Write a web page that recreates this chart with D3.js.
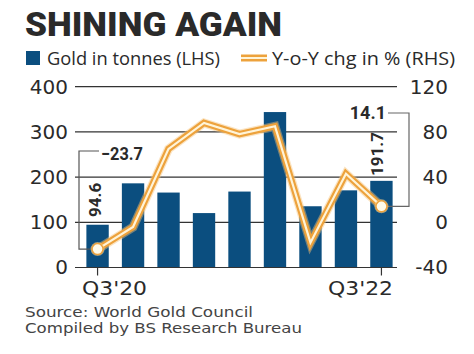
<!DOCTYPE html>
<html><head><meta charset="utf-8">
<script src="https://cdn.jsdelivr.net/npm/d3@7"></script>
<style>
html,body{margin:0;padding:0;background:#fff;}
svg{display:block;}
</style>
</head><body>
<script>
const categories = ["Q3'20","Q4'20","Q1'21","Q2'21","Q3'21","Q4'21","Q1'22","Q2'22","Q3'22"];
const goldTonnes = [94.6, 186.2, 165.8, 120.4, 168.0, 343.9, 135.5, 170.7, 191.7];
const yoyChange = [-23.7, -4.2, 65, 88, 78, 85, -18, 43, 14.1];
const leftTicks = [0, 100, 200, 300, 400];
const rightTicks = [-40, 0, 40, 80, 120];
const xTickLabels = ["Q3'20", "Q3'22"];

const W = 474, H = 354;
const svg = d3.select("body").append("svg").attr("width", W).attr("height", H);

const BLUE = "#0b4e7f", ORANGE = "#eda23c", PALE = "#fff4d8", INK = "#2a2a2a";
const gridX0 = 75, gridX1 = 397;
const yTop = 86.7, yBot = 267.5;

const x = d3.scaleBand().domain(categories).range([80, 399]).paddingInner(0.37).paddingOuter(0.18);
const yL = d3.scaleLinear().domain([0, 400]).range([yBot, yTop]);
const yR = d3.scaleLinear().domain([-40, 120]).range([yBot, yTop]);
const cx = c => x(c) + x.bandwidth() / 2;

// Title
svg.append("text").attr("x", 25).attr("y", 36)
  .attr("font-family", "Roboto").attr("font-weight", 900).attr("font-size", 33)
  .attr("fill", INK).attr("textLength", 257).attr("lengthAdjust", "spacingAndGlyphs")
  .text("SHINING AGAIN");

// Legend
svg.append("rect").attr("x", 26).attr("y", 51).attr("width", 14).attr("height", 14).attr("fill", BLUE);
svg.append("text").attr("x", 47).attr("y", 65)
  .attr("font-family", "Open Sans").attr("font-size", 19).attr("fill", INK)
  .attr("textLength", 173).attr("lengthAdjust", "spacingAndGlyphs")
  .text("Gold in tonnes (LHS)");
svg.append("line").attr("x1", 241).attr("x2", 267).attr("y1", 58).attr("y2", 58)
  .attr("stroke", ORANGE).attr("stroke-width", 7);
svg.append("line").attr("x1", 241).attr("x2", 267).attr("y1", 58).attr("y2", 58)
  .attr("stroke", PALE).attr("stroke-width", 2);
svg.append("text").attr("x", 272).attr("y", 65)
  .attr("font-family", "Open Sans").attr("font-size", 19).attr("fill", INK)
  .attr("textLength", 183).attr("lengthAdjust", "spacingAndGlyphs")
  .text("Y-o-Y chg in % (RHS)");

// Gridlines
svg.append("g").selectAll("line").data(leftTicks).join("line")
  .attr("x1", gridX0).attr("x2", gridX1)
  .attr("y1", d => yL(d)).attr("y2", d => yL(d))
  .attr("stroke", "#333").attr("stroke-width", 1.2);

// Left axis
const gL = svg.append("g").attr("transform", `translate(${gridX0},0)`)
  .call(d3.axisLeft(yL).tickValues(leftTicks).tickSize(0).tickPadding(7));
gL.select(".domain").remove();
gL.selectAll("text").attr("font-family", "DejaVu Sans").attr("font-size", 20).attr("fill", INK);

// Right axis
const gR = svg.append("g").attr("transform", `translate(448,0)`)
  .call(d3.axisRight(yR).tickValues(rightTicks).tickSize(0).tickPadding(0).tickFormat(d => d < 0 ? "-" + Math.abs(d) : d));
gR.select(".domain").remove();
gR.selectAll("text").attr("font-family", "DejaVu Sans").attr("font-size", 20).attr("fill", INK)
  .attr("text-anchor", "end").attr("x", 0);

// Bars
svg.append("g").selectAll("rect").data(categories).join("rect")
  .attr("x", d => x(d)).attr("width", x.bandwidth())
  .attr("y", (d, i) => yL(goldTonnes[i])).attr("height", (d, i) => yL(0) - yL(goldTonnes[i]))
  .attr("fill", BLUE);

// Baseline
svg.append("line").attr("x1", gridX0).attr("x2", gridX1).attr("y1", yL(0)).attr("y2", yL(0))
  .attr("stroke", "#333").attr("stroke-width", 1.2);

// X ticks
svg.append("g").selectAll("line").data(xTickLabels).join("line")
  .attr("x1", d => cx(d)).attr("x2", d => cx(d))
  .attr("y1", yL(0)).attr("y2", yL(0) + 8).attr("stroke", "#333").attr("stroke-width", 1.2);
svg.append("text").attr("x", 82).attr("y", 295)
  .attr("font-family", "DejaVu Sans").attr("font-size", 20).attr("fill", INK)
  .attr("textLength", 65).attr("lengthAdjust", "spacingAndGlyphs").text(xTickLabels[0]);
svg.append("text").attr("x", 328).attr("y", 295)
  .attr("font-family", "DejaVu Sans").attr("font-size", 20).attr("fill", INK)
  .attr("textLength", 65).attr("lengthAdjust", "spacingAndGlyphs").text(xTickLabels[1]);

// Annotation brackets
const first = categories[0], last = categories[categories.length - 1];
const p1y = yR(yoyChange[0]), p9y = yR(yoyChange[yoyChange.length - 1]);
svg.append("path")
  .attr("d", `M${cx(first)},${p1y} H79 V151 H99`)
  .attr("fill", "none").attr("stroke", "#555").attr("stroke-width", 1.2);
svg.append("path")
  .attr("d", `M${cx(last)},${p9y} H409 V113 H388`)
  .attr("fill", "none").attr("stroke", "#666").attr("stroke-width", 1.2);

// Line
const line = d3.line().x((d, i) => cx(categories[i])).y(d => yR(d));
svg.append("path").datum(yoyChange).attr("d", line)
  .attr("fill", "none").attr("stroke", "#f6c47a").attr("stroke-width", 9).attr("stroke-linejoin", "miter").attr("opacity", 0.45);
svg.append("path").datum(yoyChange).attr("d", line)
  .attr("fill", "none").attr("stroke", ORANGE).attr("stroke-width", 6.5).attr("stroke-linejoin", "miter");
svg.append("path").datum(yoyChange).attr("d", line)
  .attr("fill", "none").attr("stroke", PALE).attr("stroke-width", 2.2).attr("stroke-linejoin", "miter");

// Markers
[0, yoyChange.length - 1].forEach(i => {
  svg.append("circle").attr("cx", cx(categories[i])).attr("cy", yR(yoyChange[i])).attr("r", 7)
    .attr("fill", "#f8cf8a").attr("opacity", 0.6);
  svg.append("circle").attr("cx", cx(categories[i])).attr("cy", yR(yoyChange[i])).attr("r", 5.5)
    .attr("fill", "#fffbea").attr("stroke", ORANGE).attr("stroke-width", 1.5);
});

// Value labels
svg.append("text").attr("x", 101).attr("y", 160)
  .attr("font-family", "Roboto").attr("font-weight", 700).attr("font-size", 18).attr("fill", INK)
  .attr("textLength", 42).attr("lengthAdjust", "spacingAndGlyphs")
  .text("\u2212" + Math.abs(yoyChange[0]));
svg.append("text").attr("x", 386).attr("y", 119).attr("text-anchor", "end")
  .attr("font-family", "Roboto").attr("font-weight", 700).attr("font-size", 18).attr("fill", INK)
  .text(yoyChange[yoyChange.length - 1]);
svg.append("text").attr("transform", `translate(${cx(first) + 3},217) rotate(-90)`)
  .attr("font-family", "Roboto").attr("font-weight", 700).attr("font-size", 17).attr("fill", INK)
  .text(goldTonnes[0]);
svg.append("text").attr("transform", `translate(${cx(last) + 2},176) rotate(-90)`)
  .attr("font-family", "Roboto").attr("font-weight", 700).attr("font-size", 17).attr("fill", INK)
  .text(goldTonnes[goldTonnes.length - 1]);

// Source
svg.append("text").attr("x", 25).attr("y", 317)
  .attr("font-family", "DejaVu Sans").attr("font-size", 14).attr("fill", "#444")
  .attr("textLength", 228).attr("lengthAdjust", "spacingAndGlyphs")
  .text("Source: World Gold Council");
svg.append("text").attr("x", 25).attr("y", 333)
  .attr("font-family", "DejaVu Sans").attr("font-size", 14).attr("fill", "#444")
  .attr("textLength", 277).attr("lengthAdjust", "spacingAndGlyphs")
  .text("Compiled by BS Research Bureau");
</script>
</body></html>
